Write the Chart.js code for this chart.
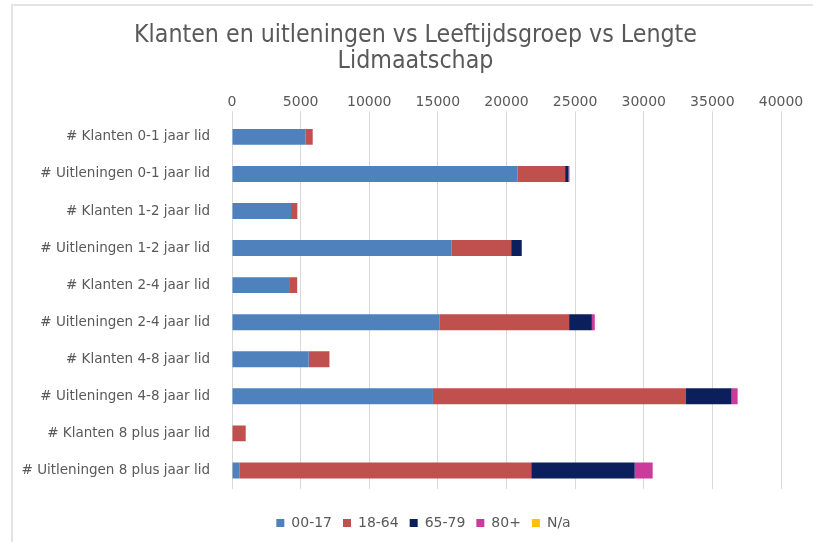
<!DOCTYPE html>
<html>
<head>
<meta charset="utf-8">
<script src="https://cdn.jsdelivr.net/npm/chart.js@4.4.1/dist/chart.umd.min.js"></script>
<style>
    body { margin: 0; background: #fff; }
    #wrap { position: relative; width: 813px; height: 542px; }
    #frame { position: absolute; left: 11px; top: 4px; right: 0; bottom: 0;
             border-top: 2px solid #e4e4e4; border-left: 2px solid #e4e4e4; pointer-events: none; }
</style>
</head>
<body>
<div id="wrap">
    <canvas id="myChart" width="813" height="542"></canvas>
    <div id="frame"></div>
</div>
<script>
// categories (rows)
var labels = [
    "# Klanten 0-1 jaar lid",
    "# Uitleningen 0-1 jaar lid",
    "# Klanten 1-2 jaar lid",
    "# Uitleningen 1-2 jaar lid",
    "# Klanten 2-4 jaar lid",
    "# Uitleningen 2-4 jaar lid",
    "# Klanten 4-8 jaar lid",
    "# Uitleningen 4-8 jaar lid",
    "# Klanten 8 plus jaar lid",
    "# Uitleningen 8 plus jaar lid"
];

// series values
var age0017 = [5370, 20820, 4300, 16010, 4160, 15100, 5590, 14640, 0, 530];
var age1864 = [510, 3450, 460, 4330, 590, 9460, 1510, 18440, 1000, 21270];
var age6579 = [0, 250, 0, 770, 0, 1660, 0, 3320, 0, 7540];
var age80 = [0, 70, 0, 0, 0, 210, 0, 440, 0, 1310];
var ageNa = [0, 0, 0, 0, 0, 0, 0, 0, 0, 0];

var seriesNames = ["00-17", "18-64", "65-79", "80+", "N/a"];
var barColors = ["#4f81bd", "#c0504d", "#0b1f5c", "#cc3a9c", "#ffc000"];

var axisMax = 40000;
var axisStep = 5000;

var textColor = "#595959";
var fontName = "'DejaVu Sans', Arial, sans-serif";

var seriesData = [age0017, age1864, age6579, age80, ageNa];
var datasets = [];
for (let i = 0; i < seriesNames.length; i++) {
    datasets.push({
        label: seriesNames[i],
        data: seriesData[i],
        backgroundColor: barColors[i],
        borderWidth: 0,
        barPercentage: 0.43,
        categoryPercentage: 1.0
    });
}

// title and legend sit a bit right of centre in the original
const shiftBlocks = {
    id: "shiftBlocks",
    afterLayout(chart) {
        const t = chart.titleBlock;
        if (t) { t.left += 25; t.right += 25; }
        const l = chart.legend;
        if (l) { l.left += 33; l.right += 33; }
    }
};

new Chart("myChart", {
    type: "bar",
    data: {
        labels: labels,
        datasets: datasets
    },
    plugins: [shiftBlocks],
    options: {
        indexAxis: "y",
        responsive: false,
        animation: false,
        layout: { padding: { left: 0, right: 32, top: 0, bottom: 2 } },
        plugins: {
            title: {
                display: true,
                text: ["Klanten en uitleningen vs Leeftijdsgroep vs Lengte", "Lidmaatschap"],
                color: textColor,
                font: { family: "'DejaVu Sans Condensed', 'Liberation Sans', Arial, sans-serif", size: 24.7, weight: "normal", lineHeight: 1.08 },
                padding: { top: 22, bottom: 0 }
            },
            legend: {
                position: "bottom",
                title: { display: true, text: "", font: { size: 10, lineHeight: 1.2 }, padding: 2 },
                labels: {
                    color: textColor,
                    font: { family: fontName, size: 14 },
                    boxWidth: 8,
                    boxHeight: 8,
                    padding: 11
                }
            },
            tooltip: { enabled: false }
        },
        scales: {
            x: {
                position: "top",
                stacked: true,
                min: 0,
                max: axisMax,
                ticks: {
                    stepSize: axisStep,
                    color: textColor,
                    font: { family: fontName, size: 14 },
                    padding: 1,
                    maxRotation: 0,
                    callback: function (value) { return String(value); }
                },
                grid: { color: "#d9d9d9", tickLength: 7 },
                border: { display: false },
                afterFit: function (scale) { scale.height = 43; }
            },
            y: {
                stacked: true,
                ticks: {
                    color: textColor,
                    font: { family: fontName, size: 13.5 },
                    padding: 14
                },
                grid: { display: false },
                border: { display: false },
                afterFit: function (scale) { scale.width = 232; }
            }
        }
    }
});
</script>
</body>
</html>
